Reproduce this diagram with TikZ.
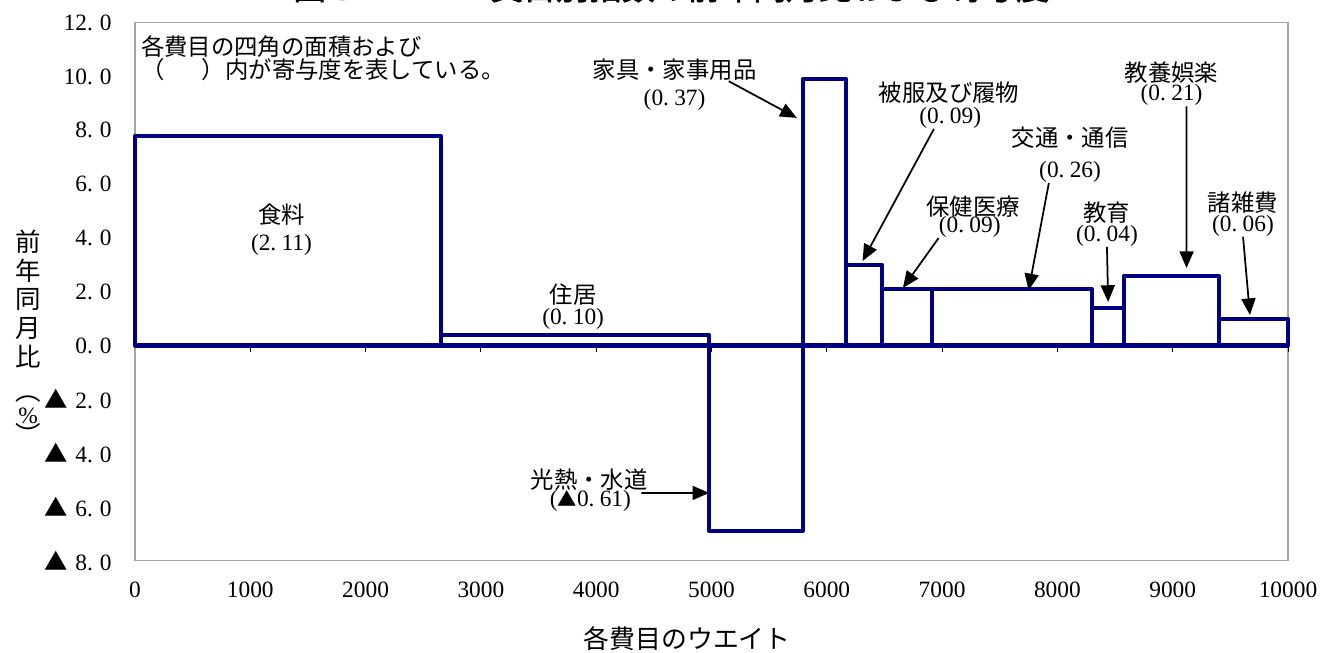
\documentclass[tikz,border=0pt]{standalone}
\usepackage{fontspec}
\setmainfont{Liberation Serif}
\newfontfamily\jp{Noto Sans CJK JP}[AutoFakeBold=2]
\usetikzlibrary{arrows.meta}

\definecolor{barblue}{RGB}{0,0,128}
\definecolor{framegray}{RGB}{165,165,165}

\begin{document}
\begin{tikzpicture}[x=2.306cm, y=0.538cm,
        cell/.style={draw=barblue, line width=2.3pt, line join=round},
        jplab/.style={inner sep=0pt, font=\jp\fontsize{13.3}{14}\selectfont},
        numlab/.style={inner sep=0pt, font=\fontsize{13.3}{14}\selectfont},
        callout/.style={-{Triangle[length=9.5pt,width=8pt]}, line width=1pt}]

        % Fix the page to the chart area
        \clip (-1.1709,-11.431) rectangle (10.2775,12.844);

        % Draw the title (cut off at the top)
        \node[anchor=base west, inner sep=0pt, font=\jp\bfseries\fontsize{18.7}{20}\selectfont] (title) at (1.37,12.86) {図３－２１　費目別指数の前年同月比および寄与度};

        % Draw the plot frame
        \draw[framegray, line width=0.6pt] (0,-8) rectangle (10,12);

        % Draw the ticks under the zero line
        \foreach \i in {1,...,10} {
            \draw[line width=0.5pt] (\i,0) -- (\i,-0.25);
        }

        % Draw one box per item: left edge, right edge, height
        \foreach \a/\b/\h in {0/2.65/7.8, 2.65/4.98/0.4, 4.98/5.79/-6.9, 5.79/6.17/9.9, 6.17/6.48/3.0,
                              6.48/6.91/2.1, 6.91/8.30/2.1, 8.30/8.58/1.4, 8.58/9.40/2.6, 9.40/10/1.0} {
            \draw[cell] (\a,0) rectangle (\b,\h);
        }
        \draw[cell] (0,0) -- (10,0);

        % Axis numbers
        \foreach \v in {0,2,...,12} {
            \node[numlab, anchor=east] (yl\v) at (-0.2,\v) {\v.\kern4pt0};
        }
        \foreach \v in {2,4,6,8} {
            \node[numlab, anchor=east] (yn\v) at (-0.2,-\v) {{\jp ▲}\kern4pt\v.\kern4pt0};
        }
        \foreach \i in {0,...,10} {
            \pgfmathtruncatemacro\w{\i*1000}
            \node[numlab] (xl\i) at (\i,-9.09) {\w};
        }

        % Axis titles
        \node[jplab, font=\jp\fontsize{14.7}{16}\selectfont] (xtitle) at (4.79,-10.89) {各費目のウエイト};
        \foreach \c [count=\i] in {前,年,同,月,比} {
            \node[jplab, font=\jp\fontsize{14.5}{16}\selectfont] (yt\i) at (-0.928,{3.85-(\i-1)*1.07}) {\c};
        }
        \node[jplab, font=\jp\fontsize{14.5}{16}\selectfont] (ytl) at (-0.928,-1.99) {︵};
        \node[numlab] (ytp) at (-0.928,-2.62) {\%};
        \node[jplab, font=\jp\fontsize{14.5}{16}\selectfont] (ytr) at (-0.928,-3.29) {︶};

        % Note in the corner
        \node[jplab, anchor=west] (note1) at (0.05,11.12) {各費目の四角の面積および};
        \node[jplab, anchor=west] (note2) at (0.05,10.27) {（　\hspace{0.6em}）内が寄与度を表している。};

        % Item names and contributions
        \node[jplab] (food) at (1.27,4.85) {食料};
        \node[numlab] (foodv) at (1.27,3.74) {(2.\kern3pt11)};
        \node[jplab] (hous) at (3.80,1.88) {住居};
        \node[numlab] (housv) at (3.80,0.99) {(0.\kern3pt10)};
        \node[jplab] (util) at (3.94,-5.00) {光熱・水道};
        \node[numlab] (utilv) at (3.95,-5.78) {({\jp\fontsize{11}{12}\selectfont ▲}0.\kern3pt61)};
        \node[jplab] (furn) at (4.68,10.24) {家具・家事用品};
        \node[numlab] (furnv) at (4.68,9.13) {(0.\kern3pt37)};
        \node[jplab] (clth) at (7.06,9.39) {被服及び履物};
        \node[numlab] (clthv) at (7.07,8.46) {(0.\kern3pt09)};
        \node[jplab] (hlth) at (7.27,5.15) {保健医療};
        \node[numlab] (hlthv) at (7.24,4.40) {(0.\kern3pt09)};
        \node[jplab] (trns) at (8.11,7.71) {交通・通信};
        \node[numlab] (trnsv) at (8.11,6.45) {(0.\kern3pt26)};
        \node[jplab] (edu) at (8.43,4.93) {教育};
        \node[numlab] (eduv) at (8.43,4.07) {(0.\kern3pt04)};
        \node[jplab] (cult) at (8.99,10.13) {教養娯楽};
        \node[numlab] (cultv) at (8.99,9.30) {(0.\kern3pt21)};
        \node[jplab] (misc) at (9.61,5.30) {諸雑費};
        \node[numlab] (miscv) at (9.61,4.45) {(0.\kern3pt06)};

        % Arrow tips on the boxes
        \coordinate (tutil) at (4.98,-5.48);
        \coordinate (tfurn) at (5.74,8.46);
        \coordinate (tclth) at (6.31,3.14);
        \coordinate (thlth) at (6.66,2.14);
        \coordinate (ttrns) at (7.75,2.05);
        \coordinate (tedu) at (8.44,1.62);
        \coordinate (tcult) at (9.12,2.88);
        \coordinate (tmisc) at (9.67,1.13);

        % Draw the arrows
        \draw[callout] ([xshift=2mm,yshift=1.6mm]utilv.east) -- (tutil);
        \draw[callout] ([xshift=-5.6mm]furn.south east) -- (tfurn);
        \draw[callout] ([xshift=3mm]clthv.south west) -- (tclth);
        \draw[callout] (hlthv.south west) -- (thlth);
        \draw[callout] ([xshift=2mm]trnsv.south west) -- (ttrns);
        \draw[callout] (eduv.south) -- (tedu);
        \draw[callout] ([xshift=3mm]cultv.south) -- (tcult);
        \draw[callout] (miscv.south) -- (tmisc);
    \end{tikzpicture}
\end{document}
